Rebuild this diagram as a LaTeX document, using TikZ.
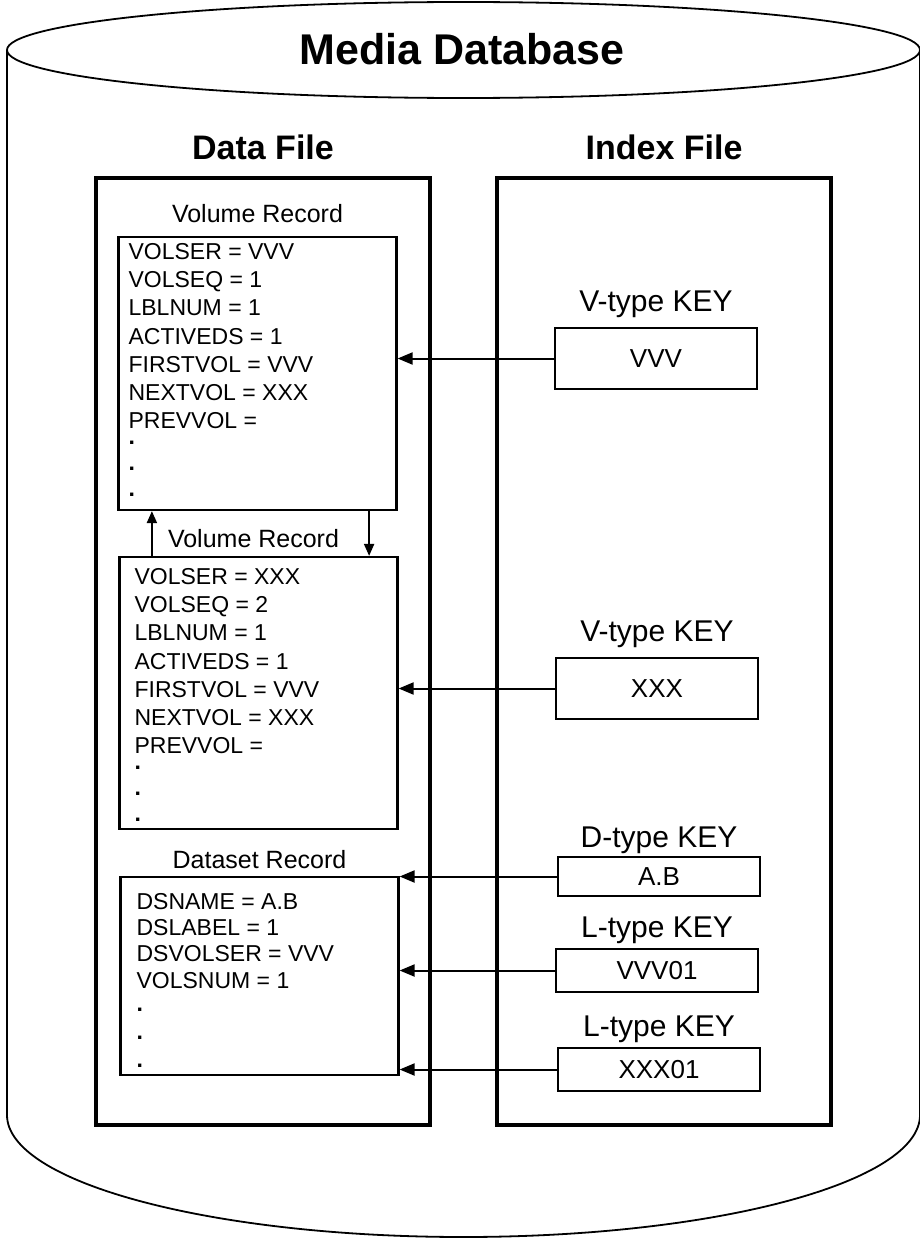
\documentclass[tikz,border=0pt]{standalone}
\usepackage{fontspec}
\setmainfont{Liberation Sans}
\usepackage{tikz}
\usetikzlibrary{
  arrows.meta,
  positioning
}
\tikzset{
  dbOutline/.style={
    draw=black,
    line width=1.8pt
  },
  dbTitle/.style={
    font=\fontsize{43}{50}\selectfont\bfseries,
    inner sep=0pt
  },
  fileBox/.style={
    rectangle,
    draw=black,
    line width=4pt,
    minimum width=334pt,
    minimum height=947pt
  },
  fileHeading/.style={
    font=\fontsize{34}{40}\selectfont\bfseries,
    inner sep=0pt
  },
  recBox/.style={
    rectangle,
    draw=black,
    line width=2.2pt,
    minimum width=278pt,
    inner sep=0pt
  },
  recLabel/.style={
    font=\fontsize{25}{30}\selectfont,
    inner sep=0pt
  },
  recText/.style={
    font=\fontsize{23}{28.3}\selectfont,
    align=left,
    inner sep=0pt,
    anchor=north west
  },
  keyBox/.style={
    rectangle,
    draw=black,
    line width=2.4pt,
    minimum width=202pt,
    font=\fontsize{26}{30}\selectfont
  },
  keyLabel/.style={
    font=\fontsize{30}{36}\selectfont,
    inner sep=0pt
  },
  keyArrow/.style={
    -{Triangle[length=15pt,width=12pt]},
    line width=2pt,
    draw=black
  },
  linkArrow/.style={
    -{Triangle[length=12pt,width=10pt]},
    line width=2pt,
    draw=black
  }
}

\begin{document}
\begin{tikzpicture}[x=1pt, y=1pt]
  \useasboundingbox (0,0) rectangle (919,-1239);

  % database cylinder
  \draw[dbOutline] (7,-50) -- (7,-1115)
    arc[start angle=180, end angle=360, x radius=456.5, y radius=122]
    -- (920,-50);
  \draw[dbOutline] (463.5,-50) ellipse[x radius=456.5, y radius=48];
  \node[dbTitle] (dbtitle) at (462,-49) {Media Database};

  % files
  \node[fileBox] (datafile) at (263,-651.5) {};
  \node[fileBox] (indexfile) at (664,-651.5) {};
  \node[fileHeading, above=16pt of datafile] (datahead) {Data File};
  \node[fileHeading, above=16pt of indexfile] (indexhead) {Index File};

  % records in the data file
  \node[recBox, minimum height=273pt] (volrecA) at (257.5,-373.5) {};
  \node[recBox, minimum height=272pt] (volrecB) at (258.5,-693) {};
  \node[recBox, minimum height=198pt] (dsrec) at (259.5,-976) {};

  \node[recLabel, above=13pt of volrecA] (volrecAlabel) {Volume Record};
  \node[recLabel, above=7.5pt of volrecB, xshift=-5pt] (volrecBlabel) {Volume Record};
  \node[recLabel, above=7pt of dsrec] (dsreclabel) {Dataset Record};

  \node[recText] (volrecAtext) at ([shift={(11pt,-7pt)}]volrecA.north west)
    {VOLSER = VVV\\ VOLSEQ = 1\\ LBLNUM = 1\\ ACTIVEDS = 1\\
     FIRSTVOL = VVV\\ NEXTVOL = XXX\\ PREVVOL =\\[-13pt]
     \textbf{.}\\[-2pt] \textbf{.}\\[-2pt] \textbf{.}};
  \node[recText] (volrecBtext) at ([shift={(16pt,-12pt)}]volrecB.north west)
    {VOLSER = XXX\\ VOLSEQ = 2\\ LBLNUM = 1\\ ACTIVEDS = 1\\
     FIRSTVOL = VVV\\ NEXTVOL = XXX\\ PREVVOL =\\[-13pt]
     \textbf{.}\\[-2pt] \textbf{.}\\[-2pt] \textbf{.}};
  \node[recText, font=\fontsize{23}{26.3}\selectfont] (dsrectext)
    at ([shift={(17pt,-17pt)}]dsrec.north west)
    {DSNAME = A.B\\ DSLABEL = 1\\ DSVOLSER = VVV\\ VOLSNUM = 1\\[-3pt]
     \textbf{.}\\[1.7pt] \textbf{.}\\[1.7pt] \textbf{.}};

  % keys in the index file
  \node[keyBox, minimum height=61pt] (vkeyA) at (656,-358.5) {VVV};
  \node[keyBox, minimum height=61pt] (vkeyB) at (657,-688.5) {XXX};
  \node[keyBox, minimum height=39pt] (dkey) at (659,-876.5) {A.B};
  \node[keyBox, minimum height=43pt] (lkeyA) at (657,-970.5) {VVV01};
  \node[keyBox, minimum height=43pt] (lkeyB) at (659,-1069.5) {XXX01};

  \node[keyLabel, above=9pt of vkeyA] (vkeyAlabel) {V-type KEY};
  \node[keyLabel, above=9pt of vkeyB] (vkeyBlabel) {V-type KEY};
  \node[keyLabel, above=2pt of dkey] (dkeylabel) {D-type KEY};
  \node[keyLabel, above=4pt of lkeyA] (lkeyAlabel) {L-type KEY};
  \node[keyLabel, above=4pt of lkeyB] (lkeyBlabel) {L-type KEY};

  % pointers
  \draw[keyArrow] (vkeyA.west) -- (vkeyA.west -| volrecA.east);
  \draw[keyArrow] (vkeyB.west) -- (vkeyB.west -| volrecB.east);
  \draw[keyArrow] (dkey.west) -- (dkey.west -| dsrec.east);
  \draw[keyArrow] (lkeyA.west) -- (lkeyA.west -| dsrec.east);
  \draw[keyArrow] (lkeyB.west) -- (lkeyB.west -| dsrec.east);

  \draw[linkArrow] ([xshift=33.5pt]volrecB.north west)
    -- ([xshift=33.5pt]volrecB.north west |- volrecA.south);
  \draw[linkArrow] ([xshift=-28.5pt]volrecA.south east)
    -- ([xshift=-28.5pt]volrecA.south east |- volrecB.north);
\end{tikzpicture}
\end{document}
